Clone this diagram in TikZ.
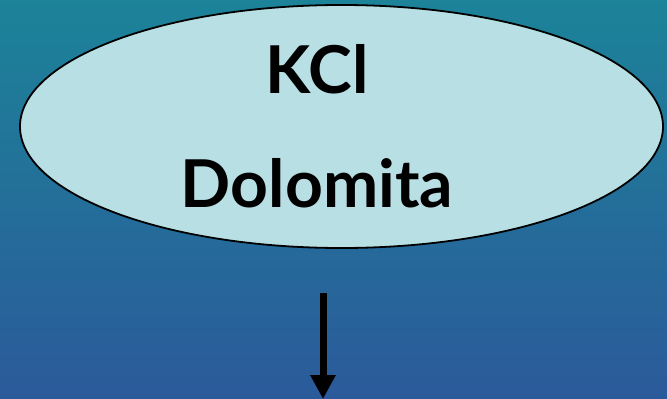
\documentclass[tikz,border=0pt]{standalone}
\usepackage{fontspec}
\setmainfont{Lato}
\usetikzlibrary{shapes.geometric,arrows.meta}
\definecolor{bgTop}{RGB}{28,131,153}
\definecolor{bgBottom}{RGB}{43,90,154}
\definecolor{ovalFill}{RGB}{184,224,228}
\begin{document}
\begin{tikzpicture}[x=1pt,y=-1pt,%%
  ovalStyle/.style={ellipse,draw=black,line width=1.8pt,fill=ovalFill,
    minimum width=643pt,minimum height=243pt,inner sep=0pt},%%
  labelStyle/.style={inner sep=0pt,font=\fontsize{66}{70}\selectfont\bfseries},%%
  arrowStyle/.style={-{Triangle[width=24pt,length=24pt]},line width=7pt}%%
]
%%
%%
\pgfmathsetmacro{\pw}{667}
\pgfmathsetmacro{\ph}{399}
\pgfmathsetmacro{\cx}{341.5}
\pgfmathsetmacro{\cy}{126.5}
\pgfmathsetmacro{\tx}{317}
%%
%% Background.
\useasboundingbox (0,0) rectangle (\pw,\ph);
\shade[top color=bgTop,bottom color=bgBottom] (0,0) rectangle (\pw,\ph);
%%
%% The oval with the two names.
\node[ovalStyle] (mixture) at (\cx,\cy) {};
\node[labelStyle] (kcl) at (\tx,69) {KCl};
\node[labelStyle] (dolomita) at (\tx,183) {Dolomita};
%%
%% The arrow below.
\coordinate (arrowTop) at (323,293);
\coordinate (arrowEnd) at (323,399);
\draw[arrowStyle] (arrowTop) -- (arrowEnd);
\end{tikzpicture}
\end{document}
